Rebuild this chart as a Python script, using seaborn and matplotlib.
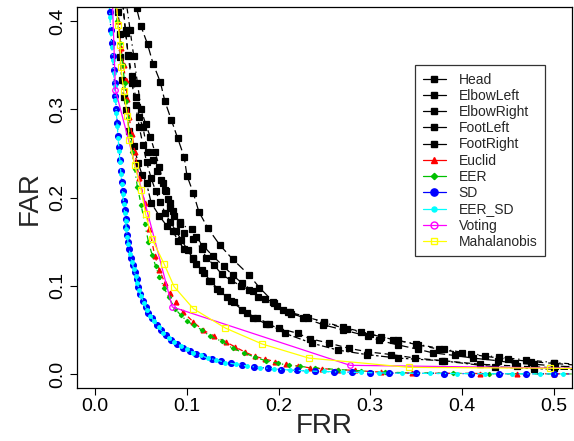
import matplotlib
matplotlib.use("Agg")
import matplotlib.pyplot as plt
from matplotlib.lines import Line2D
import seaborn as sns

sns.set_style("ticks")
plt.rcParams['font.family'] = ['Liberation Sans', 'DejaVu Sans']

# ---- data (FRR, FAR) ----
head_x = [0.040, 0.045, 0.050, 0.057, 0.063, 0.071, 0.076, 0.083, 0.090, 0.097, 0.100, 0.107, 0.113,
          0.123, 0.136, 0.150, 0.168, 0.179, 0.195, 0.210, 0.227, 0.248, 0.270, 0.297, 0.310, 0.330,
          0.352, 0.368, 0.392, 0.412, 0.439, 0.458, 0.479, 0.502, 0.525]
head_y = [0.440, 0.415, 0.394, 0.374, 0.352, 0.331, 0.309, 0.288, 0.267, 0.246, 0.225, 0.205, 0.184,
          0.165, 0.146, 0.130, 0.112, 0.098, 0.081, 0.070, 0.064, 0.056, 0.050, 0.043, 0.038, 0.033,
          0.028, 0.024, 0.021, 0.018, 0.015, 0.012, 0.011, 0.009, 0.008]

elbowleft_x = [0.030, 0.033, 0.036, 0.040, 0.044, 0.048, 0.052, 0.057, 0.063, 0.067, 0.072, 0.076,
               0.079, 0.082, 0.086, 0.092, 0.097, 0.107, 0.116, 0.121, 0.130, 0.138, 0.148, 0.159,
               0.168, 0.178, 0.194, 0.205, 0.214, 0.232, 0.250, 0.270, 0.290, 0.312, 0.330, 0.352,
               0.375, 0.400, 0.425, 0.450, 0.475, 0.500, 0.525]
elbowleft_y = [0.420, 0.387, 0.362, 0.338, 0.314, 0.291, 0.280, 0.252, 0.243, 0.230, 0.220, 0.209,
               0.198, 0.188, 0.179, 0.172, 0.160, 0.153, 0.142, 0.132, 0.123, 0.113, 0.106, 0.100,
               0.095, 0.087, 0.082, 0.072, 0.068, 0.064, 0.059, 0.053, 0.048, 0.042, 0.038, 0.033,
               0.028, 0.024, 0.020, 0.017, 0.014, 0.012, 0.010]

elbowright_x = [0.034, 0.038, 0.042, 0.046, 0.050, 0.055, 0.060, 0.065, 0.070, 0.074, 0.077, 0.081,
                0.085, 0.092, 0.105, 0.110, 0.118, 0.128, 0.140, 0.150, 0.160, 0.172, 0.185, 0.198,
                0.212, 0.230, 0.250, 0.275, 0.300, 0.325, 0.350, 0.380, 0.410, 0.440, 0.470, 0.500, 0.525]
elbowright_y = [0.420, 0.390, 0.360, 0.330, 0.300, 0.283, 0.269, 0.252, 0.235, 0.216, 0.207, 0.194,
                0.185, 0.170, 0.164, 0.155, 0.145, 0.134, 0.122, 0.112, 0.103, 0.094, 0.085, 0.077,
                0.070, 0.065, 0.058, 0.051, 0.045, 0.039, 0.034, 0.028, 0.023, 0.019, 0.016, 0.013, 0.011]

footleft_x = [0.025, 0.027, 0.027, 0.029, 0.031, 0.034, 0.037, 0.042, 0.047, 0.051, 0.056, 0.061,
              0.070, 0.078, 0.085, 0.090, 0.097, 0.107, 0.110, 0.119, 0.124, 0.133, 0.144, 0.151,
              0.166, 0.176, 0.189, 0.207, 0.236, 0.265, 0.296, 0.330, 0.378, 0.436, 0.479, 0.525]
footleft_y = [0.410, 0.385, 0.359, 0.333, 0.314, 0.299, 0.276, 0.258, 0.239, 0.226, 0.216, 0.194,
              0.179, 0.168, 0.162, 0.151, 0.142, 0.132, 0.125, 0.115, 0.105, 0.096, 0.087, 0.082,
              0.069, 0.064, 0.057, 0.046, 0.035, 0.027, 0.022, 0.018, 0.015, 0.008, 0.006, 0.005]

footright_x = [0.030, 0.033, 0.036, 0.040, 0.044, 0.048, 0.052, 0.056, 0.061, 0.066, 0.071, 0.076,
               0.082, 0.088, 0.094, 0.101, 0.107, 0.116, 0.126, 0.136, 0.148, 0.160, 0.172, 0.186,
               0.200, 0.221, 0.234, 0.255, 0.277, 0.298, 0.323, 0.349, 0.380, 0.420, 0.460, 0.500, 0.525]
footright_y = [0.420, 0.390, 0.360, 0.330, 0.305, 0.280, 0.260, 0.240, 0.222, 0.207, 0.195, 0.183,
               0.172, 0.162, 0.152, 0.140, 0.130, 0.118, 0.105, 0.094, 0.083, 0.073, 0.064, 0.057,
               0.052, 0.046, 0.040, 0.035, 0.029, 0.025, 0.022, 0.018, 0.015, 0.011, 0.009, 0.007, 0.006]

euclid_x = [0.022, 0.025, 0.028, 0.031, 0.033, 0.035, 0.037, 0.040, 0.043, 0.048, 0.054, 0.059, 0.065,
            0.070, 0.076, 0.082, 0.088, 0.096, 0.107, 0.117, 0.130, 0.143, 0.152, 0.163, 0.174, 0.185,
            0.196, 0.208, 0.221, 0.234, 0.247, 0.265, 0.283, 0.312, 0.345, 0.380, 0.420, 0.460, 0.500, 0.525]
euclid_y = [0.430, 0.400, 0.370, 0.350, 0.333, 0.312, 0.291, 0.272, 0.252, 0.222, 0.194, 0.164, 0.134,
            0.118, 0.103, 0.092, 0.082, 0.070, 0.059, 0.050, 0.043, 0.036, 0.031, 0.025, 0.020, 0.017,
            0.014, 0.011, 0.009, 0.007, 0.006, 0.005, 0.004, 0.002, 0.001, 0.0008, 0.0005, 0.0003, 0.0002, 0.0]

eer_x = [0.021, 0.024, 0.027, 0.030, 0.032, 0.034, 0.036, 0.038, 0.040, 0.043, 0.046, 0.050, 0.054,
         0.058, 0.062, 0.066, 0.070, 0.075, 0.080, 0.087, 0.093, 0.100, 0.108, 0.116, 0.125, 0.138,
         0.150, 0.162, 0.174, 0.186, 0.199, 0.211, 0.223, 0.240, 0.265, 0.290, 0.316, 0.350, 0.390,
         0.430, 0.470, 0.500, 0.525]
eer_y = [0.430, 0.400, 0.375, 0.350, 0.330, 0.310, 0.290, 0.270, 0.252, 0.232, 0.212, 0.192, 0.170,
         0.150, 0.135, 0.122, 0.110, 0.098, 0.087, 0.074, 0.067, 0.060, 0.055, 0.050, 0.043, 0.037,
         0.029, 0.024, 0.019, 0.015, 0.012, 0.010, 0.0086, 0.0068, 0.005, 0.0035, 0.002, 0.0012, 0.0007,
         0.0004, 0.0002, 0.0001, 0.0]

sd_x = [0.015, 0.016, 0.017, 0.018, 0.019, 0.020, 0.021, 0.022, 0.023, 0.024, 0.025, 0.026, 0.027,
        0.028, 0.029, 0.030, 0.031, 0.032, 0.033, 0.034, 0.035, 0.036, 0.037, 0.039, 0.041, 0.043,
        0.045, 0.047, 0.049, 0.052, 0.055, 0.058, 0.062, 0.067, 0.072, 0.077, 0.083, 0.089, 0.096,
        0.103, 0.110, 0.118, 0.127, 0.137, 0.148, 0.160, 0.173, 0.188, 0.203, 0.220, 0.240, 0.260,
        0.280, 0.300, 0.320, 0.350, 0.380, 0.410, 0.440, 0.470, 0.500, 0.525]
sd_y = [0.430, 0.410, 0.390, 0.375, 0.360, 0.345, 0.330, 0.315, 0.300, 0.285, 0.270, 0.257, 0.243,
        0.230, 0.218, 0.207, 0.196, 0.186, 0.176, 0.167, 0.158, 0.150, 0.142, 0.132, 0.124, 0.116,
        0.108, 0.099, 0.091, 0.083, 0.076, 0.069, 0.063, 0.056, 0.050, 0.044, 0.039, 0.034, 0.030,
        0.026, 0.023, 0.020, 0.017, 0.0145, 0.012, 0.010, 0.008, 0.0065, 0.005, 0.004, 0.003, 0.0025,
        0.002, 0.0015, 0.001, 0.0008, 0.0005, 0.0004, 0.0003, 0.0002, 0.0001, 0.0]

eersd_x = [0.015, 0.016, 0.017, 0.018, 0.019, 0.020, 0.021, 0.022, 0.023, 0.024, 0.025, 0.026, 0.027,
           0.028, 0.029, 0.030, 0.031, 0.032, 0.033, 0.034, 0.035, 0.036, 0.038, 0.040, 0.042, 0.044,
           0.046, 0.048, 0.050, 0.053, 0.056, 0.060, 0.064, 0.069, 0.074, 0.080, 0.086, 0.093, 0.100,
           0.107, 0.115, 0.123, 0.132, 0.142, 0.154, 0.166, 0.180, 0.195, 0.212, 0.230, 0.250, 0.270,
           0.290, 0.310, 0.335, 0.365, 0.395, 0.425, 0.455, 0.485, 0.510, 0.525]
eersd_y = [0.425, 0.405, 0.387, 0.371, 0.356, 0.341, 0.326, 0.311, 0.296, 0.281, 0.267, 0.253, 0.240,
           0.227, 0.215, 0.204, 0.193, 0.183, 0.173, 0.164, 0.155, 0.147, 0.136, 0.127, 0.119, 0.111,
           0.103, 0.095, 0.088, 0.080, 0.073, 0.066, 0.060, 0.053, 0.047, 0.041, 0.036, 0.032, 0.028,
           0.024, 0.021, 0.018, 0.016, 0.013, 0.011, 0.009, 0.0072, 0.0058, 0.0045, 0.0035, 0.0028,
           0.0022, 0.0017, 0.0012, 0.0009, 0.0006, 0.0005, 0.0003, 0.0002, 0.0001, 0.0, 0.0]

voting_x = [0.0, 0.022, 0.084, 0.278, 1.0]
voting_y = [1.0, 0.322, 0.076, 0.0098, 0.0]

mahal_x = [0.020, 0.023, 0.025, 0.027, 0.028, 0.031, 0.035, 0.037, 0.043, 0.050, 0.055, 0.062, 0.075,
           0.086, 0.107, 0.142, 0.182, 0.233, 0.342, 0.496, 1.0]
mahal_y = [0.460, 0.420, 0.396, 0.373, 0.348, 0.321, 0.293, 0.265, 0.237, 0.209, 0.181, 0.153, 0.125,
           0.099, 0.074, 0.052, 0.034, 0.018, 0.0075, 0.0065, 0.0]

labels = ['Head', 'ElbowLeft', 'ElbowRight', 'FootLeft', 'FootRight',
          'Euclid', 'EER', 'SD', 'EER_SD', 'Voting', 'Mahalanobis']

series = [
    (head_x, head_y, dict(color='black', marker='s', ms=4, linestyle=(0, (7, 3)))),
    (elbowleft_x, elbowleft_y, dict(color='black', marker='s', ms=4, linestyle=(0, (4, 4)))),
    (elbowright_x, elbowright_y, dict(color='black', marker='s', ms=4, linestyle=(0, (1, 3, 4, 3)))),
    (footleft_x, footleft_y, dict(color='black', marker='s', ms=4, linestyle=(0, (2, 2, 6, 2)))),
    (footright_x, footright_y, dict(color='black', marker='s', ms=4, linestyle=(0, (5, 3)))),
    (euclid_x, euclid_y, dict(color='red', marker='^', ms=3.5, linestyle=(0, (4, 4)))),
    (eer_x, eer_y, dict(color='#00C000', marker='D', ms=2.2, linestyle=(0, (1, 3, 4, 3)))),
    (sd_x, sd_y, dict(color='blue', marker='o', ms=4.2, linestyle=(0, (1, 3)))),
    (eersd_x, eersd_y, dict(color='cyan', marker='o', ms=2.6, linestyle=(0, (1, 3, 4, 3)))),
    (voting_x, voting_y, dict(color='magenta', marker='o', ms=4, mfc='none', linestyle='-')),
    (mahal_x, mahal_y, dict(color='yellow', marker='s', ms=4, mfc='none', linestyle='-')),
]

fig, ax = plt.subplots(figsize=(5.74, 4.41), dpi=100)
fig.subplots_adjust(left=0.134, right=0.9965, bottom=0.12, top=0.984)

handles = []
for (xs, ys, st), lab in zip(series, labels):
    mfc = st.get('mfc', st['color'])
    sns.lineplot(x=xs, y=ys, ax=ax, sort=False, estimator=None, legend=False,
                 color=st['color'], linestyle=st['linestyle'], linewidth=0.9,
                 marker=st['marker'], markersize=st['ms'],
                 markerfacecolor=mfc, markeredgecolor=st['color'], markeredgewidth=0.9)
    handles.append(Line2D([0], [0], color=st['color'], lw=0.9, marker=st['marker'],
                          markersize=st['ms'] + 1, markerfacecolor=mfc,
                          markeredgecolor=st['color'], label=lab))

ax.set_xlim(-0.02, 0.52)
ax.set_ylim(-0.016, 0.416)
ax.set_xticks([0.0, 0.1, 0.2, 0.3, 0.4, 0.5])
ax.set_xticklabels(['0.0', '0.1', '0.2', '0.3', '0.4', '0.5'])
ax.set_yticks([0.0, 0.1, 0.2, 0.3, 0.4])
ax.set_yticklabels(['0.0', '0.1', '0.2', '0.3', '0.4'], rotation=90, va='center')
ax.tick_params(axis='both', direction='out', length=5, width=0.8, labelsize=14, colors='black')
ax.tick_params(axis='x', pad=2)
ax.tick_params(axis='y', pad=3)
for sp in ax.spines.values():
    sp.set_visible(True)
    sp.set_color('black')
    sp.set_linewidth(0.9)

ax.set_xlabel('FRR', fontsize=20, labelpad=-1)
ax.set_ylabel('FAR', fontsize=20, labelpad=4)

leg = ax.legend(handles=handles, loc='upper left', bbox_to_anchor=(0.683, 0.848),
                fontsize=10, frameon=True, fancybox=False, edgecolor='black',
                handlelength=1.7, handletextpad=0.9, labelspacing=0.16,
                borderpad=0.55, borderaxespad=0)
leg.get_frame().set_linewidth(0.9)

plt.savefig('out.png', dpi=100)
